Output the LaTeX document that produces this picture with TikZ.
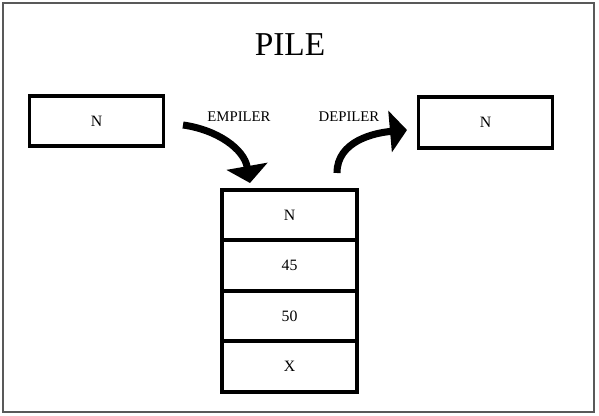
\documentclass[tikz,border=0pt]{standalone}
\usepackage{fontspec}
\setmainfont{Liberation Serif}
\usetikzlibrary{arrows.meta,positioning}

\begin{document}
\begin{tikzpicture}[
    x=0.02cm, y=0.02cm,
    box/.style={draw, line width=2.2pt, rectangle, outer sep=0pt,
        minimum width=2.68cm, minimum height=1.01cm, font=\fontsize{9}{11}\selectfont},
    cell/.style={box, minimum width=2.7cm},
    flow/.style={line width=4pt, -{Triangle[width=0.82cm,length=0.34cm]}},
    lbl/.style={font=\fontsize{8.4}{10}\selectfont}
]
    \useasboundingbox (0,0) rectangle (599,416);
    \draw [black!65, line width=0.8pt] (3,4) rectangle (594,413);

    \node [font=\fontsize{19}{22}\selectfont] (title) at (290,371) {PILE};

    \node [box] (src) at (96.5,295) {N};
    \node [box] (dst) at (485.5,293.5) {N};

    \node [cell] (c1) at (289.5,201) {N};
    \node [cell, below=0pt of c1] (c2) {45};
    \node [cell, below=0pt of c2] (c3) {50};
    \node [cell, below=0pt of c3] (c4) {X};

    \node [lbl] (push) at (239,299) {EMPILER};
    \node [lbl] (pop) at (349,299) {DEPILER};

    \coordinate (pushA) at (183,291);
    \coordinate (pushB) at (250,233);
    \coordinate (popA) at (337,243);
    \coordinate (popB) at (407,286);

    \draw [flow] (pushA)
        to [out=-8,in=100] (pushB)
    ;
    \draw [flow] (popA)
        to [out=90,in=185] (popB)
    ;
\end{tikzpicture}
\end{document}
